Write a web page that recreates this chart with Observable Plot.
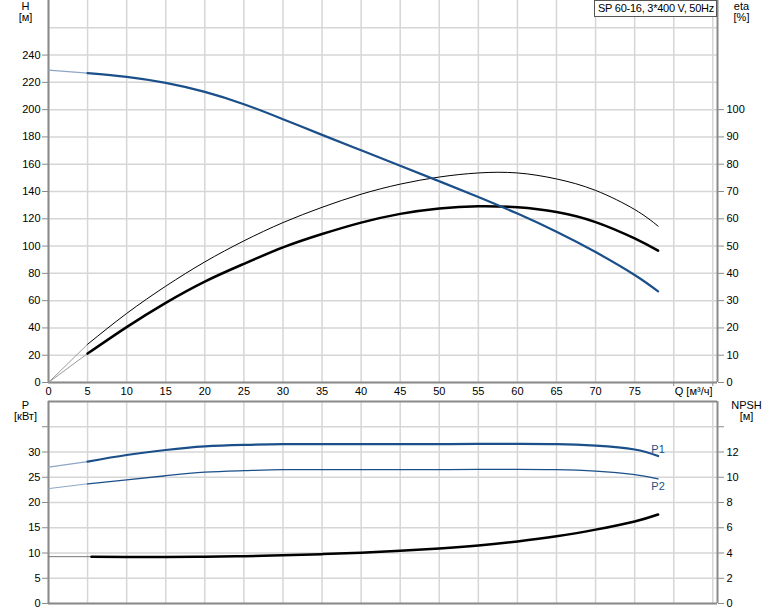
<!DOCTYPE html>
<html><head><meta charset="utf-8">
<script src="https://cdn.jsdelivr.net/npm/d3@7"></script>
<script src="https://cdn.jsdelivr.net/npm/@observablehq/plot@0.6"></script>
<style>
body{margin:0;background:#fff;}
#wrap{position:relative;width:774px;height:611px;font-family:"Liberation Sans",Arial,sans-serif;}
#wrap svg{display:block;}
#bottom svg{margin-top:-10px;position:relative;}
#legend{position:absolute;left:594px;top:0;width:123px;height:17px;border:1px solid #555;background:#fff;font-size:11px;letter-spacing:-0.25px;line-height:15px;padding-left:3px;box-sizing:border-box;color:#000;white-space:nowrap;overflow:hidden;}
</style></head><body><div id="wrap"><div id="top"></div><div id="bottom"></div><div id="legend">SP 60-16, 3*400 V, 50Hz</div></div>
<script>
// ---- data ----
const Q        = [0,5,10,15,20,25,30,35,40,45,50,55,60,65,70,75,78];
const H        = [229,226.8,224,219.6,213,204,193,181.5,170.2,158.9,147.5,136,123.8,110.5,95.6,78.8,66.8];
const etaPump  = [0,14,25.3,35.3,44.2,51.9,58.6,64.2,69,72.7,75.3,76.8,76.8,74.6,70.4,63.4,57.3];
const etaTotal = [0,10.6,20.3,29.2,37,43.5,49.5,54.4,58.6,61.8,63.8,64.6,64.2,62.5,58.8,52.8,48.3];
const P1       = [27,28.1,29.4,30.4,31.1,31.4,31.55,31.55,31.55,31.55,31.55,31.6,31.6,31.55,31.25,30.5,29.2];
const P2       = [22.75,23.7,24.5,25.3,26.0,26.3,26.5,26.5,26.5,26.5,26.5,26.55,26.57,26.5,26.2,25.5,24.7];
const Qnpsh    = [5.5,10,15,20,25,30,35,40,45,50,55,60,65,70,75,78];
const NPSH     = [3.71,3.69,3.69,3.71,3.75,3.82,3.91,4.02,4.17,4.36,4.6,4.92,5.32,5.85,6.5,7.05];
const qTickLabels = [0,5,10,15,20,25,30,35,40,45,50,55,60,65,70,75];
const qGrid    = [0,5,10,15,20,25,30,35,40,45,50,55,60,65,70,75,80,85];
const hTicks   = [0,20,40,60,80,100,120,140,160,180,200,220,240];
const hGrid    = [0,20,40,60,80,100,120,140,160,180,200,220,240,260];
const etaTicks = [0,10,20,30,40,50,60,70,80,90,100];
const pTicks   = [0,5,10,15,20,25,30,35];
const npshTicks= [0,2,4,6,8,10,12,14];
const qMax = 85.6, hMax = 280, pMax = 40;
const etaToH = 2, npshToP = 2.5;

const blue = "#1b4f8a", blueLight = "#8ea6c4", grid = "#d6d6d6", axisC = "#8a8a8a";
const font = {fontSize:"11px", fontFamily:"'Liberation Sans', Arial, sans-serif", color:"#000", background:"transparent"};

const topData = Q.map((q,i)=>({q, h:H[i], ep:etaPump[i]*etaToH, et:etaTotal[i]*etaToH}));
const botData = Q.map((q,i)=>({q, p1:P1[i], p2:P2[i]}));
const npData  = Qnpsh.map((q,i)=>({q, n:NPSH[i]*npshToP}));
const npExt   = [{q:0, n:NPSH[0]*npshToP}, {q:Qnpsh[0], n:NPSH[0]*npshToP}];
const curve = "natural";

const topPlot = Plot.plot({
  width:774, height:400, marginTop:0, marginBottom:18, marginLeft:48, marginRight:57,
  style: {...font, background:"#fff"},
  x:{domain:[0,qMax]}, y:{domain:[0,hMax]},
  marks:[
    Plot.ruleX(qGrid, {stroke:grid, strokeWidth:1.5}),
    Plot.ruleY(hGrid, {stroke:grid, strokeWidth:1.5}),
    Plot.ruleX([0, qMax], {stroke:axisC, strokeWidth:2}),
    Plot.ruleY([0], {stroke:axisC, strokeWidth:2}),
    Plot.axisY(hTicks, {anchor:"left", tickSize:6, tickPadding:2, label:null, stroke:axisC}),
    Plot.axisY(etaTicks.map(e=>e*etaToH), {anchor:"right", tickSize:6, tickPadding:3, label:null, stroke:axisC, tickFormat:d=>d/etaToH}),
    Plot.axisX(qTickLabels, {anchor:"bottom", tickSize:0, tickPadding:5, label:null}),
    Plot.axisX([80,85], {anchor:"bottom", tickSize:4, label:null, stroke:axisC, tickFormat:()=>""}),
    Plot.text(["Q [м³/ч]"], {frameAnchor:"bottom-right", dx:-5, dy:5, lineAnchor:"top", textAnchor:"end"}),
    Plot.text(["H\n[м]"], {frameAnchor:"top-left", dx:-23, dy:2, lineAnchor:"top", textAnchor:"middle", lineHeight:1}),
    Plot.text(["eta\n[%]"], {frameAnchor:"top-right", dx:24, dy:2, lineAnchor:"top", textAnchor:"middle", lineHeight:1}),
    // extrapolated parts Q 0..5
    Plot.line(topData.slice(0,2), {x:"q", y:"ep", stroke:"#9a9a9a", strokeWidth:1}),
    Plot.line(topData.slice(0,2), {x:"q", y:"et", stroke:"#9a9a9a", strokeWidth:1}),
    Plot.line(topData.slice(0,2), {x:"q", y:"h", stroke:blueLight, strokeWidth:1.2}),
    // main curves
    Plot.line(topData.slice(1), {x:"q", y:"ep", stroke:"#000", strokeWidth:1, curve}),
    Plot.line(topData.slice(1), {x:"q", y:"et", stroke:"#000", strokeWidth:2.5, curve}),
    Plot.line(topData.slice(1), {x:"q", y:"h", stroke:blue, strokeWidth:2.2, curve})
  ]
});

const last = botData[botData.length-1];
const botPlot = Plot.plot({
  width:774, height:221, marginTop:11, marginBottom:8, marginLeft:48, marginRight:57,
  style: font,
  x:{domain:[0,qMax]}, y:{domain:[0,pMax]},
  marks:[
    Plot.ruleX(qGrid, {stroke:grid, strokeWidth:1.5}),
    Plot.ruleY(pTicks, {stroke:grid, strokeWidth:1.5}),
    Plot.ruleX([0, qMax], {stroke:axisC, strokeWidth:2}),
    Plot.ruleY([0, pMax], {stroke:axisC, strokeWidth:2}),
    Plot.axisY(pTicks, {anchor:"left", tickSize:6, tickPadding:2, label:null, stroke:axisC, tickFormat:d=>d<=30?d:""}),
    Plot.axisY(npshTicks.map(n=>n*npshToP), {anchor:"right", tickSize:6, tickPadding:3, label:null, stroke:axisC, tickFormat:d=>{const n=Math.round(d/npshToP); return n<=12?n:"";}}),
    Plot.axisX(qGrid, {anchor:"bottom", tickSize:0, label:null, tickFormat:()=>""}),
    Plot.text(["P\n[кВт]"], {frameAnchor:"top-left", dx:-23, dy:0, lineAnchor:"top", textAnchor:"middle", lineHeight:1}),
    Plot.text(["NPSH\n[м]"], {frameAnchor:"top-right", dx:29, dy:0, lineAnchor:"top", textAnchor:"middle", lineHeight:1}),
    Plot.line(botData.slice(0,2), {x:"q", y:"p1", stroke:blueLight, strokeWidth:1.2}),
    Plot.line(botData.slice(0,2), {x:"q", y:"p2", stroke:blueLight, strokeWidth:1}),
    Plot.line(npExt, {x:"q", y:"n", stroke:"#777", strokeWidth:1}),
    Plot.line(botData.slice(1), {x:"q", y:"p1", stroke:blue, strokeWidth:2.2, curve}),
    Plot.line(botData.slice(1), {x:"q", y:"p2", stroke:blue, strokeWidth:1.3, curve}),
    Plot.line(npData, {x:"q", y:"n", stroke:"#000", strokeWidth:2.5, curve}),
    Plot.text([last], {x:"q", y:"p1", text:()=>"P1", dy:-7, fill:blue}),
    Plot.text([last], {x:"q", y:"p2", text:()=>"P2", dy:8, fill:blue})
  ]
});

document.getElementById("top").appendChild(topPlot);
document.getElementById("bottom").appendChild(botPlot);
</script></body></html>
